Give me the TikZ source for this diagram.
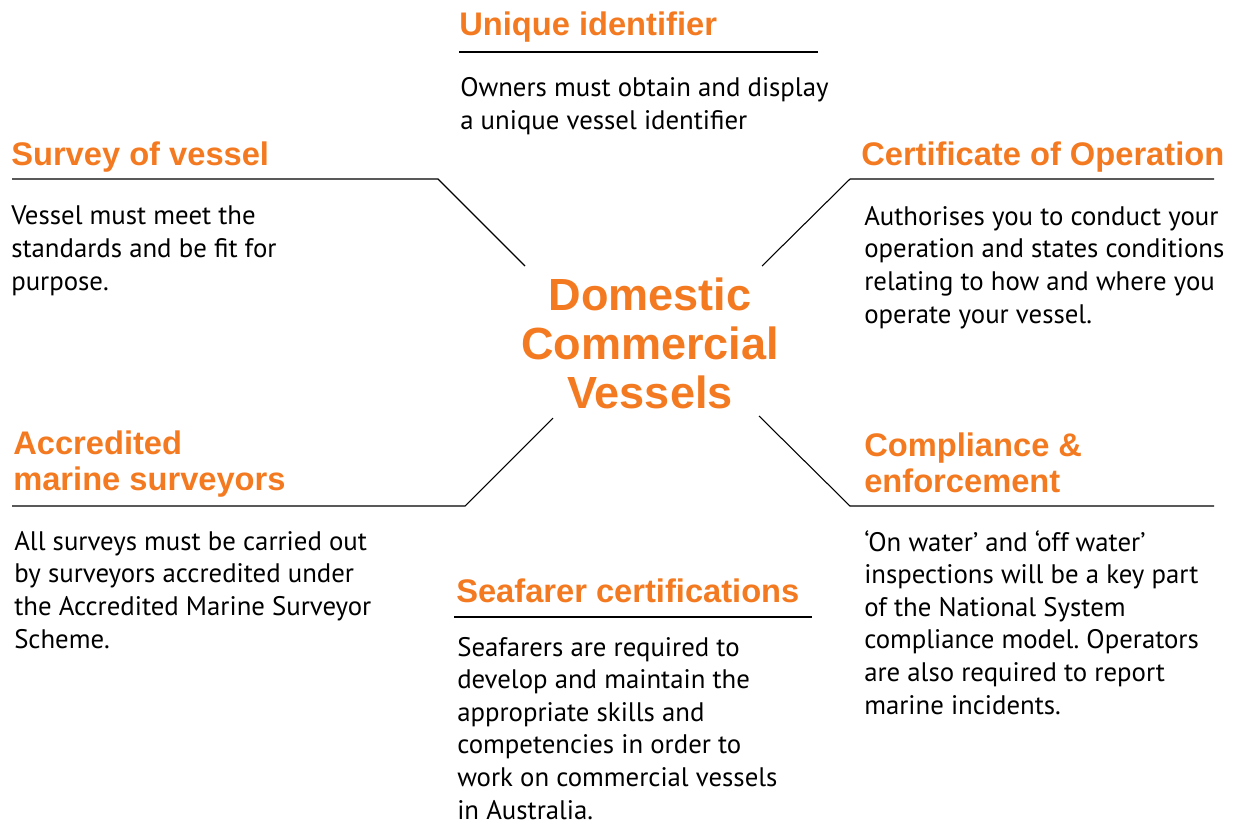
\documentclass[tikz,border=0pt]{standalone}
\usepackage{fontspec}
\setmainfont{PT Sans}
\newfontfamily\hdfont{Liberation Sans}
\definecolor{orng}{RGB}{243,122,32}
\frenchspacing
\begin{document}
\begin{tikzpicture}[
      x=0.75pt, y=-0.75pt,
      hd/.style={anchor=base west, inner sep=0pt, align=left, text=orng,
        font=\hdfont\bfseries\fontsize{24.5}{26.5}\selectfont},
      txt/.style={anchor=base west, inner sep=0pt, align=left,
        font=\fontsize{20.1}{24.4}\selectfont},
      ttl/.style={anchor=base, inner sep=0pt, align=center, text=orng,
        font=\hdfont\bfseries\fontsize{33.8}{36.4}\selectfont},
      rl/.style={line width=0.8pt, black},
    ]
    \useasboundingbox (0,0) rectangle (1236,825);
    % centre
    \node[ttl] (dcv) at (650,408) {Domestic\\Commercial\\Vessels};
    \coordinate (dcv-nw) at (525,266);
    \coordinate (dcv-ne) at (762,266);
    \coordinate (dcv-sw) at (553,418);
    \coordinate (dcv-se) at (759,416);
    % headings
    \node[hd] (uid) at (459,35) {Unique identifier};
    \node[hd] (sov) at (11,165) {Survey of vessel};
    \node[hd] (coo) at (861,165) {Certificate of Operation};
    \node[hd] (ams) at (13,490) {Accredited\\marine surveyors};
    \node[hd] (cae) at (864,492) {Compliance \&\\enforcement};
    \node[hd] (sfc) at (456,602) {Seafarer certifications};
    % rules
    \coordinate (uid-l) at (459,52);  \coordinate (uid-r) at (818,52);
    \coordinate (sov-l) at (12,179);  \coordinate (sov-r) at (438,179);
    \coordinate (coo-l) at (850,179); \coordinate (coo-r) at (1214,179);
    \coordinate (ams-l) at (12,506);  \coordinate (ams-r) at (465,506);
    \coordinate (cae-l) at (850,506); \coordinate (cae-r) at (1214,506);
    \coordinate (sfc-l) at (454,617); \coordinate (sfc-r) at (812,617);
    \draw[rl] (uid-l) -- (uid-r);
    \draw[rl] (sfc-l) -- (sfc-r);
    \draw[rl] (sov-l) -- (sov-r) -- (dcv-nw);
    \draw[rl] (coo-r) -- (coo-l) -- (dcv-ne);
    \draw[rl] (ams-l) -- (ams-r) -- (dcv-sw);
    \draw[rl] (cae-r) -- (cae-l) -- (dcv-se);
    % texts
    \node[txt] (uid-t) at (460,129) {Owners must obtain and display\\a unique vessel identifier};
    \node[txt] (sov-t) at (11,290) {Vessel must meet the\\standards and be fit for\\purpose.};
    \node[txt] (coo-t) at (864,323) {Authorises you to conduct your\\operation and states conditions\\relating to how and where you\\operate your vessel.};
    \node[txt] (ams-t) at (14,648) {All surveys must be carried out\\by surveyors accredited under\\the Accredited Marine Surveyor\\Scheme.};
    \node[txt] (cae-t) at (864,714) {‘On water’ and ‘off water’\\inspections will be a key part\\of the National System\\compliance model. Operators\\are also required to report\\marine incidents.};
    \node[txt] (sfc-t) at (457,819) {Seafarers are required to\\develop and maintain the\\appropriate skills and\\competencies in order to\\work on commercial vessels\\in Australia.};
\end{tikzpicture}
\end{document}
